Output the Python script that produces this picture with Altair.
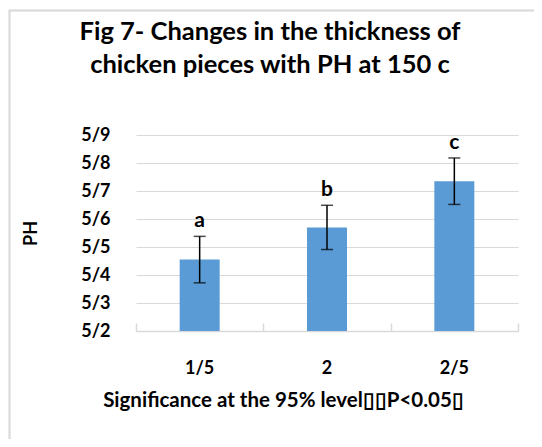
import altair as alt
import pandas as pd

categories = ["1/5", "2", "2/5"]
means = [5.455, 5.57, 5.735]
errors = [0.083, 0.079, 0.083]
letters = ["a", "b", "c"]
y_ticks = [5.2, 5.3, 5.4, 5.5, 5.6, 5.7, 5.8, 5.9]
y_min, y_max = 5.2, 5.9

df = pd.DataFrame({
    "cat": categories,
    "mean": means,
    "err": errors,
    "letter": letters,
})
df["base"] = y_min
df["lo"] = df["mean"] - df["err"]
df["hi"] = df["mean"] + df["err"]

W, H = 382, 196
FONT = "Lato"
GRAY = "#d9d9d9"

xscale = alt.Scale(domain=categories, paddingInner=0, paddingOuter=0)
yscale = alt.Scale(domain=[y_min, y_max], zero=False, nice=False)

x_bottom = alt.X(
    "cat:N", scale=xscale, sort=categories,
    axis=alt.Axis(
        title="Significance at the 95% level\u25af\u25afP<0.05\u25af",
        labelAngle=0, labelFont=FONT, labelFontSize=18, labelFontWeight="bold",
        labelColor="black", labelPadding=28, labelBaseline="top",
        ticks=False, tickSize=0, domain=True, domainColor=GRAY, domainWidth=1.5,
        titleFont=FONT, titleFontSize=20.5, titleFontWeight="bold", titleColor="black",
        titleX=147, titleY=69, titleAlign="center", titleBaseline="middle",
        grid=False,
    ),
)

y_axis_obj = alt.Axis(
    values=y_ticks, labelExpr="replace(format(datum.value, '.1f'), '.', '/')",
    labelOverlap=False,
    labelFont=FONT, labelFontSize=18, labelFontWeight="bold", labelColor="black",
    labelPadding=26, ticks=False, tickSize=0, domain=False,
    grid=True, gridColor=GRAY, gridWidth=1,
    title="PH", titleFont=FONT, titleFontSize=18, titleFontWeight="bold",
    titleColor="black", titleAngle=-90, titleX=-105, titleY=98,
    titleAlign="center", titleBaseline="middle",
)

bars = alt.Chart(df).mark_bar(size=40, color="#5b9bd5").encode(
    x=x_bottom,
    y=alt.Y("mean:Q", scale=yscale, axis=y_axis_obj),
    y2="base:Q",
)

x_top = alt.X(
    "cat:N", scale=xscale, sort=categories,
    axis=alt.Axis(
        orient="top", offset=-H, labels=False, domain=False, ticks=True,
        tickBand="extent", tickSize=8, tickColor=GRAY, tickWidth=1.5,
        title=None, grid=False,
    ),
)

x_none = alt.X("cat:N", scale=xscale, sort=categories, axis=None)

err_rule = alt.Chart(df).mark_rule(color="black", strokeWidth=1.5).encode(
    x=x_top,
    y=alt.Y("lo:Q", scale=yscale, axis=y_axis_obj),
    y2="hi:Q",
)

cap_hi = alt.Chart(df).mark_tick(color="black", size=12, thickness=1.5, orient="horizontal").encode(
    x=x_none,
    y=alt.Y("hi:Q", scale=yscale, axis=y_axis_obj),
)
cap_lo = alt.Chart(df).mark_tick(color="black", size=12, thickness=1.5, orient="horizontal").encode(
    x=x_none,
    y=alt.Y("lo:Q", scale=yscale, axis=y_axis_obj),
)

labels = alt.Chart(df).mark_text(
    font=FONT, fontSize=21, fontWeight="bold", color="black",
    baseline="alphabetic", dy=-9,
).encode(
    x=x_none,
    y=alt.Y("hi:Q", scale=yscale, axis=y_axis_obj),
    text="letter:N",
)

border = alt.Chart(df).mark_rect(filled=False, stroke=GRAY, strokeWidth=1.5).encode(
    x=alt.value(-126.5), x2=alt.value(W + 60),
    y=alt.value(-124.5), y2=alt.value(H + 200),
)

chart = alt.layer(border, bars, err_rule, cap_hi, cap_lo, labels).resolve_axis(
    x="independent"
).properties(
    width=W, height=H,
    autosize=alt.AutoSizeParams(type="none"),
    padding={"left": 128, "top": 127, "right": 16, "bottom": 108},
    title=alt.TitleParams(
        text=["Fig 7- Changes in the thickness of", "chicken pieces with PH at 150 c"],
        font=FONT, fontSize=25.5, fontWeight="bold", color="black",
        anchor="middle", frame="group", dx=-57, offset=-94, lineHeight=33,
        baseline="bottom",
    ),
).configure_view(stroke=None)

chart.save("out.html", embed_options={"renderer": "svg", "actions": False})
